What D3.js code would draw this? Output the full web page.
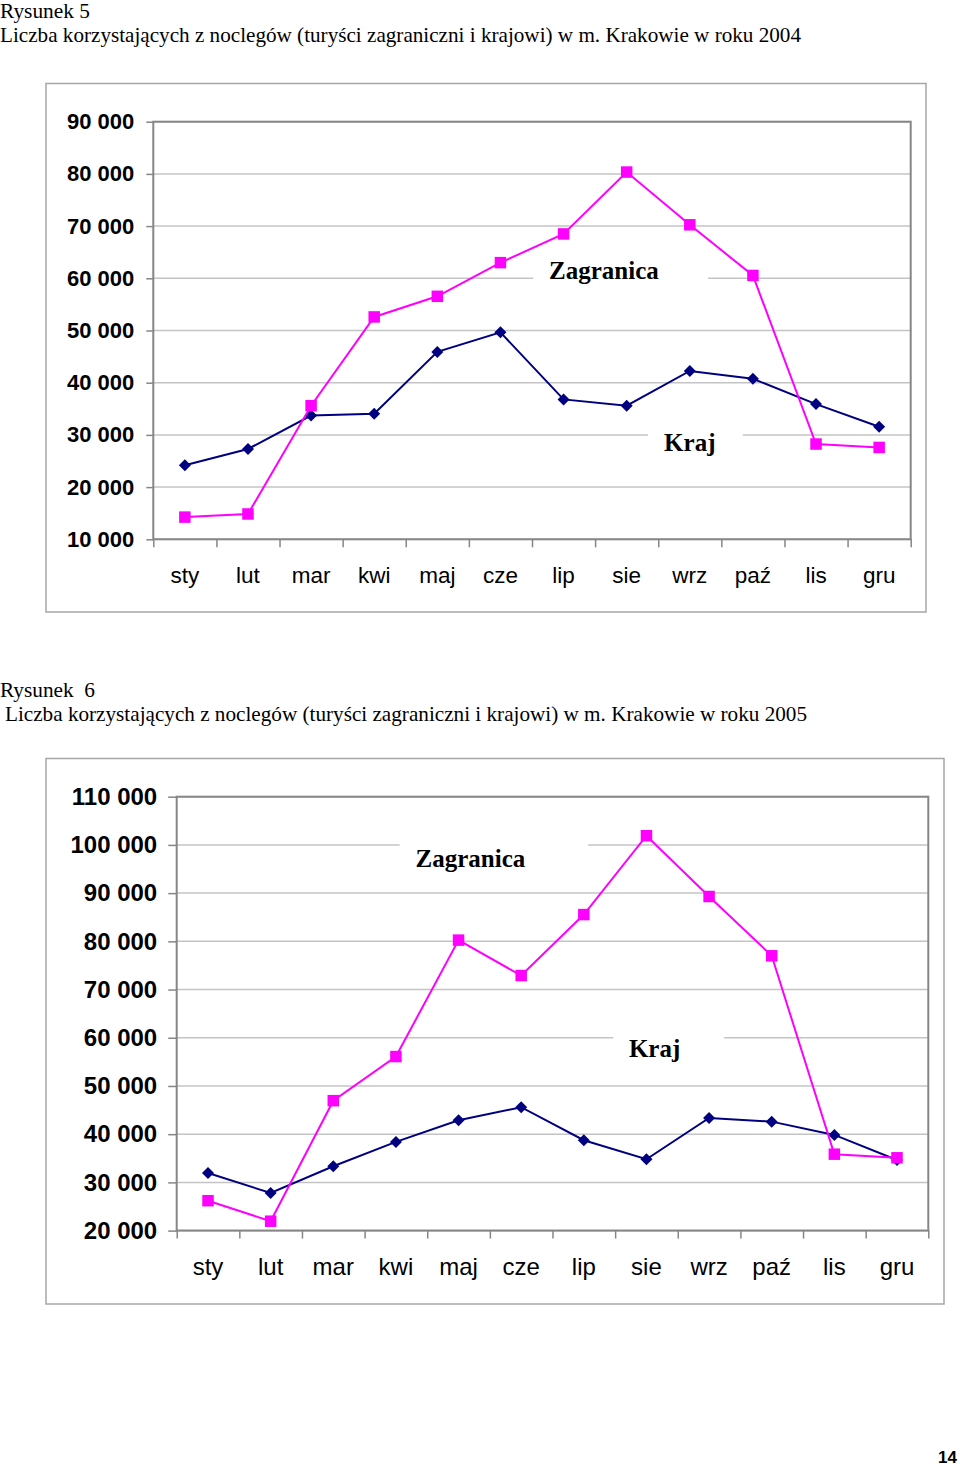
<!DOCTYPE html>
<html><head><meta charset="utf-8">
<script src="https://cdn.jsdelivr.net/npm/d3@7"></script>
<style>body{margin:0;background:#fff;} svg{display:block}</style>
</head><body>
<svg id="c" width="960" height="1468"></svg>
<script>
// ---- data ----
const months = ["sty","lut","mar","kwi","maj","cze","lip","sie","wrz","paź","lis","gru"];
const kraj2004 = [24200, 27300, 33700, 34050, 45900, 49650, 36800, 35600, 42250, 40750, 35900, 31550];
const zagranica2004 = [14250, 14850, 35600, 52600, 56550, 63000, 68500, 80350, 70250, 60550, 28250, 27600];
const kraj2005 = [31950, 27800, 33350, 38400, 42900, 45600, 38750, 34800, 43350, 42600, 39850, 34650];
const zagranica2005 = [26200, 21950, 46950, 56100, 80250, 72900, 85550, 101900, 89300, 77000, 35850, 35100];
const yTicks2004 = [10000, 20000, 30000, 40000, 50000, 60000, 70000, 80000, 90000];
const yTicks2005 = [20000, 30000, 40000, 50000, 60000, 70000, 80000, 90000, 100000, 110000];
const seriesNames = ["Kraj", "Zagranica"];
const titles2004 = ["Rysunek 5", "Liczba korzystających z noclegów (turyści zagraniczni i krajowi) w m. Krakowie w roku 2004"];
const titles2005 = ["Rysunek  6", "Liczba korzystających z noclegów (turyści zagraniczni i krajowi) w m. Krakowie w roku 2005"];
const pageNumber = "14";

const loc = d3.formatLocale({decimal: ",", thousands: " ", grouping: [3], currency: ["", " zł"]});
const fmt = loc.format(",d");

const svg = d3.select("#c");

function title(lines, x1, y1, w1, x2, y2, w2) {
  svg.append("text").attr("x", x1).attr("y", y1)
    .attr("font-family", "Liberation Serif").attr("font-size", 20)
    .style("white-space", "pre")
    .attr("textLength", w1).attr("lengthAdjust", "spacingAndGlyphs")
    .text(lines[0]);
  svg.append("text").attr("x", x2).attr("y", y2)
    .attr("font-family", "Liberation Serif").attr("font-size", 21)
    .attr("textLength", w2).attr("lengthAdjust", "spacingAndGlyphs")
    .text(lines[1]);
}

function drawChart(o) {
  const g = svg.append("g");
  // outer frame
  g.append("rect").attr("x", o.box[0]).attr("y", o.box[1])
    .attr("width", o.box[2] - o.box[0]).attr("height", o.box[3] - o.box[1])
    .attr("fill", "#fff").attr("stroke", "#a6a6a6").attr("stroke-width", 1.5);

  const [L, T, R, B] = o.plot;
  const y = d3.scaleLinear().domain(o.yDomain).range([B, T]);
  const xb = d3.scaleBand().domain(months).range([L, R]);
  const xi = d3.scaleLinear().domain([0, months.length]).range([L, R]);
  const cx = m => xb(m) + xb.bandwidth() / 2;

  // gridlines
  g.append("g").selectAll("line").data(o.yTicks).join("line")
    .attr("x1", L).attr("x2", R).attr("y1", d => y(d)).attr("y2", d => y(d))
    .attr("stroke", "#c4c4c4").attr("stroke-width", 1.5);

  // annotation gaps (white behind labels)
  o.ann.forEach(a => {
    g.append("rect").attr("x", xi(a.gap[0])).attr("y", y(a.gapV) - 2)
      .attr("width", xi(a.gap[1]) - xi(a.gap[0])).attr("height", 4).attr("fill", "#fff");
  });

  // plot border
  g.append("rect").attr("x", L).attr("y", T).attr("width", R - L).attr("height", B - T)
    .attr("fill", "none").attr("stroke", "#868686").attr("stroke-width", 2);

  // y axis
  const ya = g.append("g").attr("transform", `translate(${L},0)`)
    .call(d3.axisLeft(y).tickValues(o.yTicks).tickFormat(fmt).tickSize(o.yTickSize).tickPadding(o.yPad));
  ya.select(".domain").remove();
  ya.selectAll("line").attr("stroke", "#868686").attr("stroke-width", 1.5);
  ya.selectAll("text").attr("font-family", "Liberation Sans").attr("font-weight", "bold")
    .attr("font-size", o.yFont).attr("fill", "#000");

  // x axis ticks at band edges
  const xt = g.append("g").attr("transform", `translate(0,${B})`)
    .call(d3.axisBottom(xi).tickValues(d3.range(months.length + 1)).tickFormat("").tickSize(8));
  xt.select(".domain").remove();
  xt.selectAll("line").attr("stroke", "#868686").attr("stroke-width", 1.5);
  // x labels
  const xl = g.append("g").attr("transform", `translate(0,${B})`)
    .call(d3.axisBottom(xb).tickSize(0).tickPadding(o.xPad));
  xl.select(".domain").remove();
  xl.selectAll("text").attr("font-family", "Liberation Sans").attr("font-size", o.xFont).attr("fill", "#000");

  const line = d3.line().x((d, i) => cx(months[i])).y(d => y(d));

  // Kraj
  g.append("path").datum(o.kraj).attr("d", line).attr("fill", "none")
    .attr("stroke", "#000080").attr("stroke-width", 2);
  g.append("g").selectAll("path").data(o.kraj).join("path")
    .attr("d", d3.symbol(d3.symbolSquare, 72)())
    .attr("transform", (d, i) => `translate(${cx(months[i])},${y(d)}) rotate(45)`)
    .attr("fill", "#000080");
  // Zagranica
  g.append("path").datum(o.zagr).attr("d", line).attr("fill", "none")
    .attr("stroke", "#ff00ff").attr("stroke-width", 2);
  g.append("g").selectAll("path").data(o.zagr).join("path")
    .attr("d", d3.symbol(d3.symbolSquare, 132)())
    .attr("transform", (d, i) => `translate(${cx(months[i])},${y(d)})`)
    .attr("fill", "#ff00ff");

  // labels
  o.ann.forEach(a => {
    g.append("text").attr("x", xi(a.xi)).attr("y", y(a.v)).attr("text-anchor", "middle")
      .attr("font-family", "Liberation Serif").attr("font-weight", "bold").attr("font-size", 25)
      .attr("fill", "#000").text(a.text);
  });
}

title(titles2004, 0, 18, 90, 0, 42, 801);
drawChart({
  box: [46, 83.5, 926, 612],
  plot: [153.3, 121.7, 910.7, 539.3],
  yDomain: [10000, 90000], yTicks: yTicks2004,
  kraj: kraj2004, zagr: zagranica2004,
  yTickSize: 7, yPad: 12, yFont: 22, xFont: 22.5, xPad: 28,
  ann: [
    {text: seriesNames[1], xi: 7.14, v: 59800, gap: [6.02, 8.79], gapV: 60000},
    {text: seriesNames[0], xi: 8.50, v: 26900, gap: [7.84, 9.34], gapV: 30000}
  ]
});

title(titles2005, 0, 697, 95, 5, 721, 802);
drawChart({
  box: [46, 758.5, 944, 1304],
  plot: [176.7, 796.7, 928.3, 1230.6],
  yDomain: [20000, 110000], yTicks: yTicks2005,
  kraj: kraj2005, zagr: zagranica2005,
  yTickSize: 8.5, yPad: 11, yFont: 24, xFont: 24, xPad: 27,
  ann: [
    {text: seriesNames[1], xi: 4.69, v: 95500, gap: [3.56, 6.57], gapV: 100000},
    {text: seriesNames[0], xi: 7.63, v: 56100, gap: [6.97, 8.74], gapV: 60000}
  ]
});

svg.append("text").attr("x", 957).attr("y", 1463).attr("text-anchor", "end")
  .attr("font-family", "Liberation Sans").attr("font-weight", "bold").attr("font-size", 17)
  .text(pageNumber);
</script>
</body></html>
